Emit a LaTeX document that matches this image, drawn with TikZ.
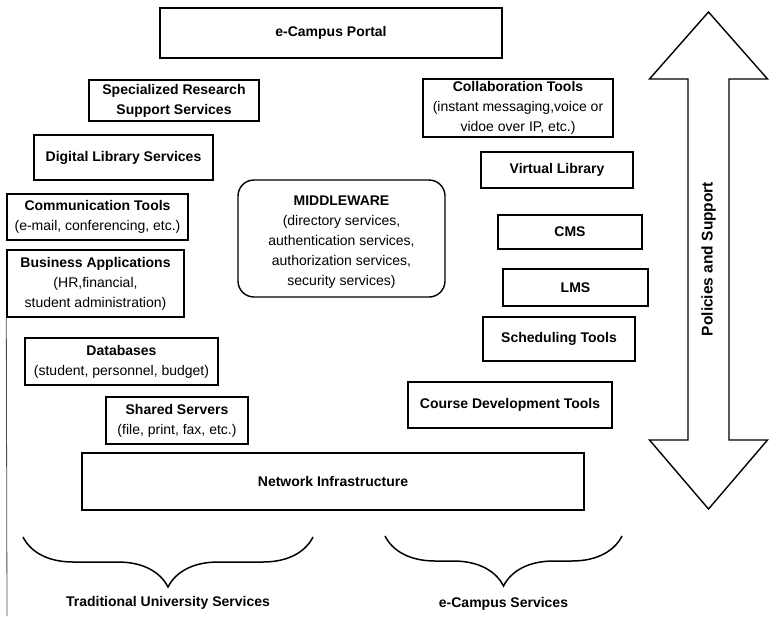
\documentclass[tikz,border=0pt]{standalone}
\usepackage{fontspec}
\setmainfont{Liberation Sans}
\usetikzlibrary{decorations.pathreplacing}
\tikzset{
  box/.style={draw,line width=1.4pt,align=center,inner sep=0pt},
  roundbox/.style={box,rounded corners=16pt},
  curly/.style={decorate,decoration={brace,amplitude=50pt},line width=1.5pt}
}

\begin{document}
\begin{tikzpicture}[x=1pt,y=-1pt,font=\fontsize{14}{20}\selectfont]
    \useasboundingbox (0,0) rectangle (776,616);

    % Define the geometry of the double arrow on the right
    \def\xmid{708.5}  % centre line of the arrow
    \def\shaft{20.5}  % half width of the shaft
    \def\head{59}     % half width of the heads
    \def\ytip{12}     % upper tip
    \def\ytop{79}     % base of the upper head
    \def\ybot{440}    % base of the lower head
    \def\ybtip{509}   % lower tip

    % -- Top portal --
    \node[box,minimum width=342pt,minimum height=50pt] (portal) at (331,33) {\textbf{e-Campus Portal}};

    % -- Traditional services (left column) --
    \node[box,minimum width=170pt,minimum height=41pt] (research) at (174,100.5) {\textbf{Specialized Research}\\\textbf{Support Services}};
    \node[box,minimum width=179pt,minimum height=45pt] (diglib) at (123.5,157.5) {\textbf{Digital Library Services}};
    \node[box,minimum width=181pt,minimum height=46pt] (comm) at (97.5,217) {\textbf{Communication Tools}\\(e-mail, conferencing, etc.)};
    \node[box,minimum width=177pt,minimum height=67pt] (business) at (95.5,283.5) {\textbf{Business Applications}\\(HR,financial,\\student administration)};
    \node[box,minimum width=193pt,minimum height=47pt] (databases) at (121.5,361.5) {\textbf{Databases}\\(student, personnel, budget)};
    \node[box,minimum width=142pt,minimum height=47pt] (servers) at (177,420.5) {\textbf{Shared Servers}\\(file, print, fax, etc.)};

    % -- Middleware in the centre --
    \node[roundbox,minimum width=207pt,minimum height=117pt] (middleware) at (341.5,238.5) {};
    \node[align=center] (mwtext) at (341.5,242) {\textbf{MIDDLEWARE}\\(directory services,\\authentication services,\\authorization services,\\security services)};

    % -- e-Campus services (right column) --
    \node[box,minimum width=190pt,minimum height=58pt] (collab) at (518,108) {\textbf{Collaboration Tools}\\(instant messaging,voice or\\vidoe over IP, etc.)};
    \node[box,minimum width=152pt,minimum height=36pt] (virtlib) at (557,170) {\textbf{Virtual Library}};
    \node[box,minimum width=144pt,minimum height=34pt] (cms) at (570,232) {\textbf{CMS}};
    \node[box,minimum width=145pt,minimum height=37pt] (lms) at (575.5,287.5) {\textbf{LMS}};
    \node[box,minimum width=152pt,minimum height=44pt] (sched) at (559,339) {\textbf{Scheduling Tools}};
    \node[box,minimum width=204pt,minimum height=46pt] (course) at (510,405) {\textbf{Course Development Tools}};

    % -- Network at the bottom --
    \node[box,minimum width=502pt,minimum height=57pt] (network) at (333,481.5) {\textbf{Network Infrastructure}};

    % -- Braces grouping the two kinds of services --
    \coordinate (tradR) at (313,537);
    \coordinate (tradL) at (23,537);
    \coordinate (ecR) at (622,536);
    \coordinate (ecL) at (385,536);
    \draw[curly] (tradR) -- (tradL);
    \draw[curly] (ecR) -- (ecL);
    \node[font=\fontsize{14}{20}\selectfont\bfseries] (trad) at (168,603) {Traditional University Services};
    \node[font=\fontsize{14}{20}\selectfont\bfseries] (ecampus) at (503.5,604) {e-Campus Services};

    % -- Double arrow for policies and support --
    \draw[line width=1.4pt,line join=miter]
      (\xmid,\ytip) -- (\xmid+\head,\ytop) -- (\xmid+\shaft,\ytop)
      -- (\xmid+\shaft,\ybot) -- (\xmid+\head,\ybot) -- (\xmid,\ybtip)
      -- (\xmid-\head,\ybot) -- (\xmid-\shaft,\ybot) -- (\xmid-\shaft,\ytop)
      -- (\xmid-\head,\ytop) -- cycle;
    \node[rotate=90,font=\fontsize{15.5}{18}\selectfont\bfseries] (policies) at (\xmid,259) {Policies and Support};

    % -- Edge of the scanned page --
    \draw[line width=0.8pt,black!70] (business.south west) -- (7,616);

\end{tikzpicture}
\end{document}
